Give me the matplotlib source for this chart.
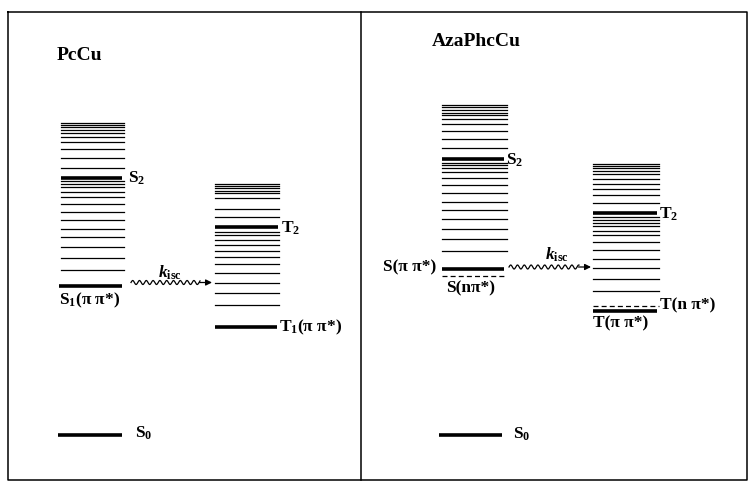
import numpy as np
import matplotlib
matplotlib.use('Agg')
import matplotlib.pyplot as plt

# energy levels (arbitrary units, ground state S0 = 0)
pccu_s0 = 0
pccu_s1 = 149
pccu_s2 = 257
pccu_t1 = 108
pccu_t2 = 207.5
pccu_s_vib = [165, 177.5, 187.5, 197.5, 206, 214.5, 222.5, 231, 238, 243, 247.5, 250.5,
              253.5, 267, 276.5, 285.5, 292.5, 297.5, 301.5, 305, 307.5, 309.5, 311.5]
pccu_t_vib = [130, 142, 152.5, 162, 171, 178.5, 184, 189.5, 195, 199.5, 203, 217.5,
              226, 237, 241.5, 244, 246.5, 248.5, 250.5]

aza_s0 = 0
aza_s_pp = 166.5
aza_s_np = 159.5
aza_s2 = 276
aza_t_pp = 124.5
aza_t_np = 129
aza_t2 = 221.5
aza_s_vib = [184, 195.5, 206, 216, 224.5, 233, 241.5, 249.5, 257, 263, 266.5, 269.5,
             272, 286.5, 295.5, 304, 310.5, 315.5, 319.5, 322, 325, 327.5, 330]
aza_t_vib = [144.5, 156, 167.5, 176.5, 185, 192.5, 199.5, 204, 208.5, 212, 215, 218,
             231.5, 240, 246, 250.5, 256, 260.5, 264, 266.5, 269, 271]

plt.rcParams['font.family'] = ['Liberation Serif', 'DejaVu Serif']
plt.rcParams['font.weight'] = 'bold'
plt.rcParams['mathtext.fontset'] = 'custom'
plt.rcParams['mathtext.rm'] = 'Liberation Serif:bold'
plt.rcParams['mathtext.it'] = 'Liberation Serif:italic:bold'
plt.rcParams['mathtext.bf'] = 'Liberation Serif:bold'

fig = plt.figure(figsize=(7.49, 4.86), dpi=100)
ax = fig.add_axes([0, 0, 1, 1])
ax.set_xlim(0, 749)
ax.set_ylim(435 - 486, 435)
ax.axis('off')

fs = 12.5
fs_title = 14
thin = dict(color='black', lw=0.9)
thick = dict(color='black', lw=2.6, solid_capstyle='butt')
dash = dict(color='black', lw=0.9, ls=(0, (4, 2.5)))

# frame with divider
ax.plot([8, 747, 747, 8, 8], [423, 423, -45, -45, 423], color='black', lw=1.1)
ax.plot([361, 361], [423, -45], color='black', lw=1.1)


def wavy_arrow(x0, x1, y):
    xs = np.linspace(x0, x1 - 12, 200)
    ys = y + 2.0 * np.sin((xs - x0) / 6.8 * 2 * np.pi)
    ax.plot(xs, ys, color='black', lw=0.9)
    ax.annotate('', xy=(x1, y), xytext=(x1 - 12.5, y),
                arrowprops=dict(arrowstyle='-|>', color='black', lw=0.9,
                                mutation_scale=9, shrinkA=0, shrinkB=0))


# ---------------- PcCu ----------------
sx0, sx1 = 61, 124
tx0, tx1 = 215, 279
for e in pccu_s_vib:
    ax.plot([sx0, sx1], [e, e], **thin)
for e in pccu_t_vib:
    ax.plot([tx0, tx1], [e, e], **thin)
ax.plot([sx0, sx1 - 2], [pccu_s2, pccu_s2], **thick)
ax.plot([sx0 - 2, sx1 - 2], [pccu_s1, pccu_s1], **thick)
ax.plot([tx0, tx1 - 1], [pccu_t2, pccu_t2], **thick)
ax.plot([tx0, tx1 - 2], [pccu_t1, pccu_t1], **thick)
ax.plot([58, 122], [pccu_s0, pccu_s0], **thick)

ax.text(57, 379, 'PcCu', fontsize=fs_title, ha='left', va='center')
ax.text(sx1 + 4, pccu_s2, r'$\mathrm{S}_2$', fontsize=fs, ha='left', va='center')
ax.text(tx1 + 2, pccu_t2 - 1, r'$\mathrm{T}_2$', fontsize=fs, ha='left', va='center')
ax.text(tx1, pccu_t1, r'$\mathrm{T}_1$(π π*)', fontsize=fs, ha='left', va='center')
ax.text(sx0 - 2, pccu_s1 - 5, r'$\mathrm{S}_1$(π π*)', fontsize=fs, ha='left', va='top')
ax.text(135, pccu_s0 + 2, r'$\mathrm{S}_0$', fontsize=fs, ha='left', va='center')
ax.text(170, pccu_s1 + 13, r'$k_{\mathrm{isc}}$', fontsize=fs, ha='center', va='center')
wavy_arrow(sx1 + 7, tx0 - 3, pccu_s1 + 3.5)

# ---------------- AzaPhcCu ----------------
sx0, sx1 = 442, 507
tx0, tx1 = 593, 659
for e in aza_s_vib:
    ax.plot([sx0, sx1], [e, e], **thin)
for e in aza_t_vib:
    ax.plot([tx0, tx1], [e, e], **thin)
ax.plot([sx0, sx1 - 3], [aza_s2, aza_s2], **thick)
ax.plot([sx0, sx1 - 3], [aza_s_pp, aza_s_pp], **thick)
ax.plot([sx0, sx1 - 2], [aza_s_np, aza_s_np], **dash)
ax.plot([tx0, tx1 - 2], [aza_t2, aza_t2], **thick)
ax.plot([tx0, tx1], [aza_t_np, aza_t_np], **dash)
ax.plot([tx0, tx1 - 2], [aza_t_pp, aza_t_pp], **thick)
ax.plot([439, 502], [aza_s0, aza_s0], **thick)

ax.text(432, 393, 'AzaPhcCu', fontsize=fs_title, ha='left', va='center')
ax.text(sx1 - 1, aza_s2 - 1, r'$\mathrm{S}_2$', fontsize=fs, ha='left', va='center')
ax.text(tx1, aza_t2 - 1, r'$\mathrm{T}_2$', fontsize=fs, ha='left', va='center')
ax.text(sx0 - 6, aza_s_pp + 1, 'S(π π*)', fontsize=fs, ha='right', va='center')
ax.text(sx0 + 4, aza_s_np - 5, 'S(nπ*)', fontsize=fs, ha='left', va='top')
ax.text(tx1 + 1, aza_t_np + 1, 'T(n π*)', fontsize=fs, ha='left', va='center')
ax.text(tx0, aza_t_pp - 5, 'T(π π*)', fontsize=fs, ha='left', va='top')
ax.text(513, aza_s0 + 1, r'$\mathrm{S}_0$', fontsize=fs, ha='left', va='center')
ax.text(557, aza_s_pp + 14, r'$k_{\mathrm{isc}}$', fontsize=fs, ha='center', va='center')
wavy_arrow(sx1 + 2, tx0 - 2, aza_s_pp + 1.5)

fig.savefig('out.png', dpi=100)
